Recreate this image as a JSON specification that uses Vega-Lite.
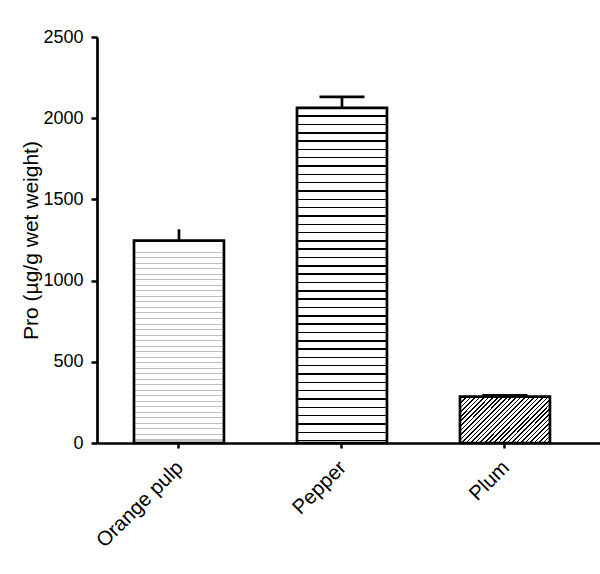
{
  "$schema": "https://vega.github.io/schema/vega-lite/v6.json",
  "width": 503,
  "height": 406,
  "autosize": "none",
  "padding": {"left": 97, "top": 37, "right": 0, "bottom": 131},
  "background": "white",
  "config": {
    "view": {"stroke": null},
    "font": "Liberation Sans",
    "axis": {
      "grid": false,
      "domainColor": "black",
      "domainWidth": 2.7,
      "tickColor": "black",
      "tickWidth": 2.5,
      "labelColor": "black",
      "titleColor": "black",
      "labelFont": "Liberation Sans",
      "titleFont": "Liberation Sans",
      "labelFontSize": 18,
      "titleFontSize": 21,
      "titleFontWeight": "normal"
    }
  },
  "data": {
    "values": [
      {"Product": "Orange pulp", "Pro": 1246, "Upper": 1316},
      {"Product": "Pepper", "Pro": 2064, "Upper": 2131},
      {"Product": "Plum", "Pro": 285, "Upper": 294}
    ]
  },
  "encoding": {
    "x": {
      "field": "Product",
      "type": "nominal",
      "scale": {"domain": ["Orange pulp", "Pepper", "Plum"], "paddingInner": 0.448, "paddingOuter": 0.267, "align": 0.425},
      "axis": {"title": null, "labelAngle": -45, "tickSize": 5, "labelPadding": 9, "labelOffset": -6, "labelFontSize": 20.5}
    }
  },
  "layer": [
    {
      "transform": [{"filter": "datum.Product === 'Orange pulp'"}],
      "mark": {
        "type": "bar",
        "stroke": "black",
        "strokeWidth": 2.7,
        "fill": {
          "gradient": "linear", "x1": 0, "y1": 0, "x2": 0, "y2": 1,
          "stops": [
            {"offset": 0, "color": "#fff"},
            {"offset": 0.0548, "color": "#fff"}, {"offset": 0.0548, "color": "#c0c0c0"}, {"offset": 0.0598, "color": "#c0c0c0"}, {"offset": 0.0598, "color": "#fff"},
            {"offset": 0.0821, "color": "#fff"}, {"offset": 0.0821, "color": "#c0c0c0"}, {"offset": 0.0871, "color": "#c0c0c0"}, {"offset": 0.0871, "color": "#fff"},
            {"offset": 0.1094, "color": "#fff"}, {"offset": 0.1094, "color": "#c0c0c0"}, {"offset": 0.1144, "color": "#c0c0c0"}, {"offset": 0.1144, "color": "#fff"},
            {"offset": 0.1367, "color": "#fff"}, {"offset": 0.1367, "color": "#c0c0c0"}, {"offset": 0.1417, "color": "#c0c0c0"}, {"offset": 0.1417, "color": "#fff"},
            {"offset": 0.1640, "color": "#fff"}, {"offset": 0.1640, "color": "#c0c0c0"}, {"offset": 0.1690, "color": "#c0c0c0"}, {"offset": 0.1690, "color": "#fff"},
            {"offset": 0.1913, "color": "#fff"}, {"offset": 0.1913, "color": "#c0c0c0"}, {"offset": 0.1963, "color": "#c0c0c0"}, {"offset": 0.1963, "color": "#fff"},
            {"offset": 0.2185, "color": "#fff"}, {"offset": 0.2185, "color": "#c0c0c0"}, {"offset": 0.2235, "color": "#c0c0c0"}, {"offset": 0.2235, "color": "#fff"},
            {"offset": 0.2458, "color": "#fff"}, {"offset": 0.2458, "color": "#c0c0c0"}, {"offset": 0.2508, "color": "#c0c0c0"}, {"offset": 0.2508, "color": "#fff"},
            {"offset": 0.2731, "color": "#fff"}, {"offset": 0.2731, "color": "#c0c0c0"}, {"offset": 0.2781, "color": "#c0c0c0"}, {"offset": 0.2781, "color": "#fff"},
            {"offset": 0.3004, "color": "#fff"}, {"offset": 0.3004, "color": "#c0c0c0"}, {"offset": 0.3054, "color": "#c0c0c0"}, {"offset": 0.3054, "color": "#fff"},
            {"offset": 0.3277, "color": "#fff"}, {"offset": 0.3277, "color": "#c0c0c0"}, {"offset": 0.3327, "color": "#c0c0c0"}, {"offset": 0.3327, "color": "#fff"},
            {"offset": 0.3550, "color": "#fff"}, {"offset": 0.3550, "color": "#c0c0c0"}, {"offset": 0.3600, "color": "#c0c0c0"}, {"offset": 0.3600, "color": "#fff"},
            {"offset": 0.3823, "color": "#fff"}, {"offset": 0.3823, "color": "#c0c0c0"}, {"offset": 0.3873, "color": "#c0c0c0"}, {"offset": 0.3873, "color": "#fff"},
            {"offset": 0.4096, "color": "#fff"}, {"offset": 0.4096, "color": "#c0c0c0"}, {"offset": 0.4146, "color": "#c0c0c0"}, {"offset": 0.4146, "color": "#fff"},
            {"offset": 0.4369, "color": "#fff"}, {"offset": 0.4369, "color": "#c0c0c0"}, {"offset": 0.4419, "color": "#c0c0c0"}, {"offset": 0.4419, "color": "#fff"},
            {"offset": 0.4642, "color": "#fff"}, {"offset": 0.4642, "color": "#c0c0c0"}, {"offset": 0.4692, "color": "#c0c0c0"}, {"offset": 0.4692, "color": "#fff"},
            {"offset": 0.4914, "color": "#fff"}, {"offset": 0.4914, "color": "#c0c0c0"}, {"offset": 0.4964, "color": "#c0c0c0"}, {"offset": 0.4964, "color": "#fff"},
            {"offset": 0.5187, "color": "#fff"}, {"offset": 0.5187, "color": "#c0c0c0"}, {"offset": 0.5237, "color": "#c0c0c0"}, {"offset": 0.5237, "color": "#fff"},
            {"offset": 0.5460, "color": "#fff"}, {"offset": 0.5460, "color": "#c0c0c0"}, {"offset": 0.5510, "color": "#c0c0c0"}, {"offset": 0.5510, "color": "#fff"},
            {"offset": 0.5733, "color": "#fff"}, {"offset": 0.5733, "color": "#c0c0c0"}, {"offset": 0.5783, "color": "#c0c0c0"}, {"offset": 0.5783, "color": "#fff"},
            {"offset": 0.6006, "color": "#fff"}, {"offset": 0.6006, "color": "#c0c0c0"}, {"offset": 0.6056, "color": "#c0c0c0"}, {"offset": 0.6056, "color": "#fff"},
            {"offset": 0.6279, "color": "#fff"}, {"offset": 0.6279, "color": "#c0c0c0"}, {"offset": 0.6329, "color": "#c0c0c0"}, {"offset": 0.6329, "color": "#fff"},
            {"offset": 0.6552, "color": "#fff"}, {"offset": 0.6552, "color": "#c0c0c0"}, {"offset": 0.6602, "color": "#c0c0c0"}, {"offset": 0.6602, "color": "#fff"},
            {"offset": 0.6825, "color": "#fff"}, {"offset": 0.6825, "color": "#c0c0c0"}, {"offset": 0.6875, "color": "#c0c0c0"}, {"offset": 0.6875, "color": "#fff"},
            {"offset": 0.7098, "color": "#fff"}, {"offset": 0.7098, "color": "#c0c0c0"}, {"offset": 0.7148, "color": "#c0c0c0"}, {"offset": 0.7148, "color": "#fff"},
            {"offset": 0.7371, "color": "#fff"}, {"offset": 0.7371, "color": "#c0c0c0"}, {"offset": 0.7421, "color": "#c0c0c0"}, {"offset": 0.7421, "color": "#fff"},
            {"offset": 0.7643, "color": "#fff"}, {"offset": 0.7643, "color": "#c0c0c0"}, {"offset": 0.7693, "color": "#c0c0c0"}, {"offset": 0.7693, "color": "#fff"},
            {"offset": 0.7916, "color": "#fff"}, {"offset": 0.7916, "color": "#c0c0c0"}, {"offset": 0.7966, "color": "#c0c0c0"}, {"offset": 0.7966, "color": "#fff"},
            {"offset": 0.8189, "color": "#fff"}, {"offset": 0.8189, "color": "#c0c0c0"}, {"offset": 0.8239, "color": "#c0c0c0"}, {"offset": 0.8239, "color": "#fff"},
            {"offset": 0.8462, "color": "#fff"}, {"offset": 0.8462, "color": "#c0c0c0"}, {"offset": 0.8512, "color": "#c0c0c0"}, {"offset": 0.8512, "color": "#fff"},
            {"offset": 0.8735, "color": "#fff"}, {"offset": 0.8735, "color": "#c0c0c0"}, {"offset": 0.8785, "color": "#c0c0c0"}, {"offset": 0.8785, "color": "#fff"},
            {"offset": 0.9008, "color": "#fff"}, {"offset": 0.9008, "color": "#c0c0c0"}, {"offset": 0.9058, "color": "#c0c0c0"}, {"offset": 0.9058, "color": "#fff"},
            {"offset": 0.9281, "color": "#fff"}, {"offset": 0.9281, "color": "#c0c0c0"}, {"offset": 0.9331, "color": "#c0c0c0"}, {"offset": 0.9331, "color": "#fff"},
            {"offset": 0.9554, "color": "#fff"}, {"offset": 0.9554, "color": "#c0c0c0"}, {"offset": 0.9604, "color": "#c0c0c0"}, {"offset": 0.9604, "color": "#fff"},
            {"offset": 0.9827, "color": "#fff"}, {"offset": 0.9827, "color": "#c0c0c0"}, {"offset": 0.9877, "color": "#c0c0c0"}, {"offset": 0.9877, "color": "#fff"},
            {"offset": 1, "color": "#fff"}
          ]
        }
      },
      "encoding": {
        "y": {
          "field": "Pro",
          "type": "quantitative",
          "title": "Pro (µg/g wet weight)",
          "scale": {"domain": [0, 2500], "nice": false},
          "axis": {"values": [0, 500, 1000, 1500, 2000, 2500], "format": "d", "tickSize": 6, "labelPadding": 8, "titlePadding": 1}
        }
      }
    },
    {
      "transform": [{"filter": "datum.Product === 'Pepper'"}],
      "mark": {
        "type": "bar",
        "stroke": "black",
        "strokeWidth": 2.7,
        "fill": {
          "gradient": "linear", "x1": 0, "y1": 0, "x2": 0, "y2": 1,
          "stops": [
            {"offset": 0, "color": "#fff"},
            {"offset": 0.0226, "color": "#fff"}, {"offset": 0.0226, "color": "#000"}, {"offset": 0.0270, "color": "#000"}, {"offset": 0.0270, "color": "#fff"},
            {"offset": 0.0474, "color": "#fff"}, {"offset": 0.0474, "color": "#000"}, {"offset": 0.0518, "color": "#000"}, {"offset": 0.0518, "color": "#fff"},
            {"offset": 0.0723, "color": "#fff"}, {"offset": 0.0723, "color": "#000"}, {"offset": 0.0767, "color": "#000"}, {"offset": 0.0767, "color": "#fff"},
            {"offset": 0.0971, "color": "#fff"}, {"offset": 0.0971, "color": "#000"}, {"offset": 0.1015, "color": "#000"}, {"offset": 0.1015, "color": "#fff"},
            {"offset": 0.1219, "color": "#fff"}, {"offset": 0.1219, "color": "#000"}, {"offset": 0.1263, "color": "#000"}, {"offset": 0.1263, "color": "#fff"},
            {"offset": 0.1467, "color": "#fff"}, {"offset": 0.1467, "color": "#000"}, {"offset": 0.1511, "color": "#000"}, {"offset": 0.1511, "color": "#fff"},
            {"offset": 0.1715, "color": "#fff"}, {"offset": 0.1715, "color": "#000"}, {"offset": 0.1759, "color": "#000"}, {"offset": 0.1759, "color": "#fff"},
            {"offset": 0.1964, "color": "#fff"}, {"offset": 0.1964, "color": "#000"}, {"offset": 0.2008, "color": "#000"}, {"offset": 0.2008, "color": "#fff"},
            {"offset": 0.2212, "color": "#fff"}, {"offset": 0.2212, "color": "#000"}, {"offset": 0.2256, "color": "#000"}, {"offset": 0.2256, "color": "#fff"},
            {"offset": 0.2460, "color": "#fff"}, {"offset": 0.2460, "color": "#000"}, {"offset": 0.2504, "color": "#000"}, {"offset": 0.2504, "color": "#fff"},
            {"offset": 0.2708, "color": "#fff"}, {"offset": 0.2708, "color": "#000"}, {"offset": 0.2752, "color": "#000"}, {"offset": 0.2752, "color": "#fff"},
            {"offset": 0.2956, "color": "#fff"}, {"offset": 0.2956, "color": "#000"}, {"offset": 0.3000, "color": "#000"}, {"offset": 0.3000, "color": "#fff"},
            {"offset": 0.3205, "color": "#fff"}, {"offset": 0.3205, "color": "#000"}, {"offset": 0.3249, "color": "#000"}, {"offset": 0.3249, "color": "#fff"},
            {"offset": 0.3453, "color": "#fff"}, {"offset": 0.3453, "color": "#000"}, {"offset": 0.3497, "color": "#000"}, {"offset": 0.3497, "color": "#fff"},
            {"offset": 0.3701, "color": "#fff"}, {"offset": 0.3701, "color": "#000"}, {"offset": 0.3745, "color": "#000"}, {"offset": 0.3745, "color": "#fff"},
            {"offset": 0.3949, "color": "#fff"}, {"offset": 0.3949, "color": "#000"}, {"offset": 0.3993, "color": "#000"}, {"offset": 0.3993, "color": "#fff"},
            {"offset": 0.4197, "color": "#fff"}, {"offset": 0.4197, "color": "#000"}, {"offset": 0.4241, "color": "#000"}, {"offset": 0.4241, "color": "#fff"},
            {"offset": 0.4446, "color": "#fff"}, {"offset": 0.4446, "color": "#000"}, {"offset": 0.4490, "color": "#000"}, {"offset": 0.4490, "color": "#fff"},
            {"offset": 0.4694, "color": "#fff"}, {"offset": 0.4694, "color": "#000"}, {"offset": 0.4738, "color": "#000"}, {"offset": 0.4738, "color": "#fff"},
            {"offset": 0.4942, "color": "#fff"}, {"offset": 0.4942, "color": "#000"}, {"offset": 0.4986, "color": "#000"}, {"offset": 0.4986, "color": "#fff"},
            {"offset": 0.5190, "color": "#fff"}, {"offset": 0.5190, "color": "#000"}, {"offset": 0.5234, "color": "#000"}, {"offset": 0.5234, "color": "#fff"},
            {"offset": 0.5438, "color": "#fff"}, {"offset": 0.5438, "color": "#000"}, {"offset": 0.5482, "color": "#000"}, {"offset": 0.5482, "color": "#fff"},
            {"offset": 0.5687, "color": "#fff"}, {"offset": 0.5687, "color": "#000"}, {"offset": 0.5731, "color": "#000"}, {"offset": 0.5731, "color": "#fff"},
            {"offset": 0.5935, "color": "#fff"}, {"offset": 0.5935, "color": "#000"}, {"offset": 0.5979, "color": "#000"}, {"offset": 0.5979, "color": "#fff"},
            {"offset": 0.6183, "color": "#fff"}, {"offset": 0.6183, "color": "#000"}, {"offset": 0.6227, "color": "#000"}, {"offset": 0.6227, "color": "#fff"},
            {"offset": 0.6431, "color": "#fff"}, {"offset": 0.6431, "color": "#000"}, {"offset": 0.6475, "color": "#000"}, {"offset": 0.6475, "color": "#fff"},
            {"offset": 0.6679, "color": "#fff"}, {"offset": 0.6679, "color": "#000"}, {"offset": 0.6723, "color": "#000"}, {"offset": 0.6723, "color": "#fff"},
            {"offset": 0.6928, "color": "#fff"}, {"offset": 0.6928, "color": "#000"}, {"offset": 0.6972, "color": "#000"}, {"offset": 0.6972, "color": "#fff"},
            {"offset": 0.7176, "color": "#fff"}, {"offset": 0.7176, "color": "#000"}, {"offset": 0.7220, "color": "#000"}, {"offset": 0.7220, "color": "#fff"},
            {"offset": 0.7424, "color": "#fff"}, {"offset": 0.7424, "color": "#000"}, {"offset": 0.7468, "color": "#000"}, {"offset": 0.7468, "color": "#fff"},
            {"offset": 0.7672, "color": "#fff"}, {"offset": 0.7672, "color": "#000"}, {"offset": 0.7716, "color": "#000"}, {"offset": 0.7716, "color": "#fff"},
            {"offset": 0.7920, "color": "#fff"}, {"offset": 0.7920, "color": "#000"}, {"offset": 0.7964, "color": "#000"}, {"offset": 0.7964, "color": "#fff"},
            {"offset": 0.8169, "color": "#fff"}, {"offset": 0.8169, "color": "#000"}, {"offset": 0.8213, "color": "#000"}, {"offset": 0.8213, "color": "#fff"},
            {"offset": 0.8417, "color": "#fff"}, {"offset": 0.8417, "color": "#000"}, {"offset": 0.8461, "color": "#000"}, {"offset": 0.8461, "color": "#fff"},
            {"offset": 0.8665, "color": "#fff"}, {"offset": 0.8665, "color": "#000"}, {"offset": 0.8709, "color": "#000"}, {"offset": 0.8709, "color": "#fff"},
            {"offset": 0.8913, "color": "#fff"}, {"offset": 0.8913, "color": "#000"}, {"offset": 0.8957, "color": "#000"}, {"offset": 0.8957, "color": "#fff"},
            {"offset": 0.9161, "color": "#fff"}, {"offset": 0.9161, "color": "#000"}, {"offset": 0.9205, "color": "#000"}, {"offset": 0.9205, "color": "#fff"},
            {"offset": 0.9410, "color": "#fff"}, {"offset": 0.9410, "color": "#000"}, {"offset": 0.9454, "color": "#000"}, {"offset": 0.9454, "color": "#fff"},
            {"offset": 0.9658, "color": "#fff"}, {"offset": 0.9658, "color": "#000"}, {"offset": 0.9702, "color": "#000"}, {"offset": 0.9702, "color": "#fff"},
            {"offset": 0.9906, "color": "#fff"}, {"offset": 0.9906, "color": "#000"}, {"offset": 0.9950, "color": "#000"}, {"offset": 0.9950, "color": "#fff"},
            {"offset": 1, "color": "#fff"}
          ]
        }
      },
      "encoding": {
        "y": {"field": "Pro", "type": "quantitative", "title": "Pro (µg/g wet weight)"}
      }
    },
    {
      "transform": [{"filter": "datum.Product === 'Plum'"}],
      "mark": {
        "type": "bar",
        "stroke": "black",
        "strokeWidth": 2.7,
        "fill": {
          "gradient": "linear", "x1": 0, "y1": 0, "x2": 1.198, "y2": 0.612,
          "stops": [
            {"offset": 0, "color": "#fff"},
            {"offset": 0.0107, "color": "#fff"}, {"offset": 0.0107, "color": "#000"}, {"offset": 0.0227, "color": "#000"}, {"offset": 0.0227, "color": "#fff"},
            {"offset": 0.0440, "color": "#fff"}, {"offset": 0.0440, "color": "#000"}, {"offset": 0.0560, "color": "#000"}, {"offset": 0.0560, "color": "#fff"},
            {"offset": 0.0773, "color": "#fff"}, {"offset": 0.0773, "color": "#000"}, {"offset": 0.0893, "color": "#000"}, {"offset": 0.0893, "color": "#fff"},
            {"offset": 0.1107, "color": "#fff"}, {"offset": 0.1107, "color": "#000"}, {"offset": 0.1227, "color": "#000"}, {"offset": 0.1227, "color": "#fff"},
            {"offset": 0.1440, "color": "#fff"}, {"offset": 0.1440, "color": "#000"}, {"offset": 0.1560, "color": "#000"}, {"offset": 0.1560, "color": "#fff"},
            {"offset": 0.1773, "color": "#fff"}, {"offset": 0.1773, "color": "#000"}, {"offset": 0.1893, "color": "#000"}, {"offset": 0.1893, "color": "#fff"},
            {"offset": 0.2107, "color": "#fff"}, {"offset": 0.2107, "color": "#000"}, {"offset": 0.2227, "color": "#000"}, {"offset": 0.2227, "color": "#fff"},
            {"offset": 0.2440, "color": "#fff"}, {"offset": 0.2440, "color": "#000"}, {"offset": 0.2560, "color": "#000"}, {"offset": 0.2560, "color": "#fff"},
            {"offset": 0.2773, "color": "#fff"}, {"offset": 0.2773, "color": "#000"}, {"offset": 0.2893, "color": "#000"}, {"offset": 0.2893, "color": "#fff"},
            {"offset": 0.3107, "color": "#fff"}, {"offset": 0.3107, "color": "#000"}, {"offset": 0.3227, "color": "#000"}, {"offset": 0.3227, "color": "#fff"},
            {"offset": 0.3440, "color": "#fff"}, {"offset": 0.3440, "color": "#000"}, {"offset": 0.3560, "color": "#000"}, {"offset": 0.3560, "color": "#fff"},
            {"offset": 0.3773, "color": "#fff"}, {"offset": 0.3773, "color": "#000"}, {"offset": 0.3893, "color": "#000"}, {"offset": 0.3893, "color": "#fff"},
            {"offset": 0.4107, "color": "#fff"}, {"offset": 0.4107, "color": "#000"}, {"offset": 0.4227, "color": "#000"}, {"offset": 0.4227, "color": "#fff"},
            {"offset": 0.4440, "color": "#fff"}, {"offset": 0.4440, "color": "#000"}, {"offset": 0.4560, "color": "#000"}, {"offset": 0.4560, "color": "#fff"},
            {"offset": 0.4773, "color": "#fff"}, {"offset": 0.4773, "color": "#000"}, {"offset": 0.4893, "color": "#000"}, {"offset": 0.4893, "color": "#fff"},
            {"offset": 0.5107, "color": "#fff"}, {"offset": 0.5107, "color": "#000"}, {"offset": 0.5227, "color": "#000"}, {"offset": 0.5227, "color": "#fff"},
            {"offset": 0.5440, "color": "#fff"}, {"offset": 0.5440, "color": "#000"}, {"offset": 0.5560, "color": "#000"}, {"offset": 0.5560, "color": "#fff"},
            {"offset": 0.5773, "color": "#fff"}, {"offset": 0.5773, "color": "#000"}, {"offset": 0.5893, "color": "#000"}, {"offset": 0.5893, "color": "#fff"},
            {"offset": 0.6107, "color": "#fff"}, {"offset": 0.6107, "color": "#000"}, {"offset": 0.6227, "color": "#000"}, {"offset": 0.6227, "color": "#fff"},
            {"offset": 0.6440, "color": "#fff"}, {"offset": 0.6440, "color": "#000"}, {"offset": 0.6560, "color": "#000"}, {"offset": 0.6560, "color": "#fff"},
            {"offset": 0.6773, "color": "#fff"}, {"offset": 0.6773, "color": "#000"}, {"offset": 0.6893, "color": "#000"}, {"offset": 0.6893, "color": "#fff"},
            {"offset": 0.7107, "color": "#fff"}, {"offset": 0.7107, "color": "#000"}, {"offset": 0.7227, "color": "#000"}, {"offset": 0.7227, "color": "#fff"},
            {"offset": 0.7440, "color": "#fff"}, {"offset": 0.7440, "color": "#000"}, {"offset": 0.7560, "color": "#000"}, {"offset": 0.7560, "color": "#fff"},
            {"offset": 0.7773, "color": "#fff"}, {"offset": 0.7773, "color": "#000"}, {"offset": 0.7893, "color": "#000"}, {"offset": 0.7893, "color": "#fff"},
            {"offset": 0.8107, "color": "#fff"}, {"offset": 0.8107, "color": "#000"}, {"offset": 0.8227, "color": "#000"}, {"offset": 0.8227, "color": "#fff"},
            {"offset": 0.8440, "color": "#fff"}, {"offset": 0.8440, "color": "#000"}, {"offset": 0.8560, "color": "#000"}, {"offset": 0.8560, "color": "#fff"},
            {"offset": 0.8773, "color": "#fff"}, {"offset": 0.8773, "color": "#000"}, {"offset": 0.8893, "color": "#000"}, {"offset": 0.8893, "color": "#fff"},
            {"offset": 0.9107, "color": "#fff"}, {"offset": 0.9107, "color": "#000"}, {"offset": 0.9227, "color": "#000"}, {"offset": 0.9227, "color": "#fff"},
            {"offset": 0.9440, "color": "#fff"}, {"offset": 0.9440, "color": "#000"}, {"offset": 0.9560, "color": "#000"}, {"offset": 0.9560, "color": "#fff"},
            {"offset": 0.9773, "color": "#fff"}, {"offset": 0.9773, "color": "#000"}, {"offset": 0.9893, "color": "#000"}, {"offset": 0.9893, "color": "#fff"},
            {"offset": 1, "color": "#fff"}
          ]
        }
      },
      "encoding": {
        "y": {"field": "Pro", "type": "quantitative", "title": "Pro (µg/g wet weight)"}
      }
    },
    {
      "mark": {"type": "rule", "color": "black", "strokeWidth": 2.7},
      "encoding": {
        "y": {"field": "Pro", "type": "quantitative", "title": "Pro (µg/g wet weight)"},
        "y2": {"field": "Upper"}
      }
    },
    {
      "transform": [{"filter": "datum.Product !== 'Orange pulp'"}],
      "mark": {"type": "tick", "color": "black", "opacity": 1, "thickness": 2.7, "size": 45},
      "encoding": {
        "y": {"field": "Upper", "type": "quantitative", "title": "Pro (µg/g wet weight)"}
      }
    }
  ]
}
